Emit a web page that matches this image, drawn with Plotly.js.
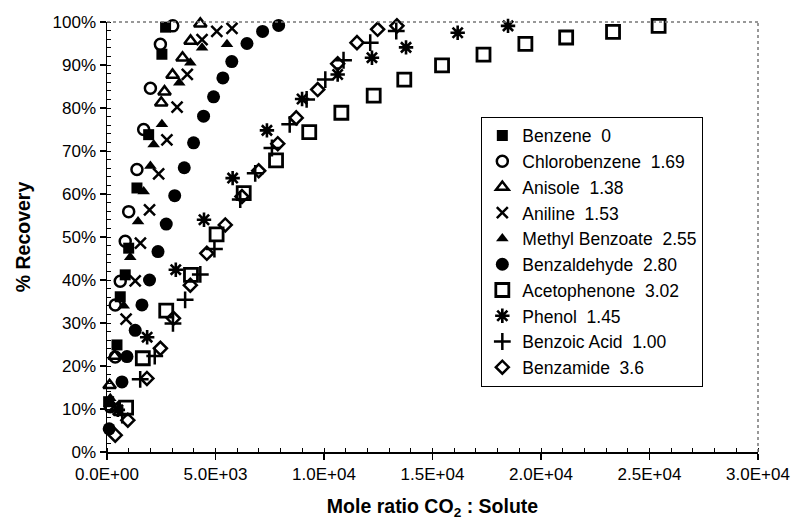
<!DOCTYPE html>
<html>
<head>
<meta charset="utf-8">
<script src="https://cdn.plot.ly/plotly-3.0.1.min.js"></script>
<style>html,body{margin:0;padding:0;background:#fff;}#chart{width:793px;height:527px;}</style>
</head>
<body>
<div id="chart"></div>
<script>
// ---- data (mole ratio CO2:solute, % recovery) ----
const benzeneX = [75, 460, 610, 840, 1000, 1380, 1920, 2530, 2700];
const benzeneY = [11.7, 24.9, 36.1, 41.2, 47.4, 61.4, 73.8, 92.5, 98.8];

const chlorobenzeneX = [150, 380, 380, 610, 840, 1000, 1380, 1690, 2000, 2460, 3030];
const chlorobenzeneY = [10.5, 22.1, 34.2, 39.7, 49.0, 55.9, 65.7, 75.0, 84.6, 94.8, 99.1];

const anisoleX = [120, 350, 2500, 2650, 3020, 3480, 3850, 4300];
const anisoleY = [15.5, 22.3, 81.2, 83.8, 87.7, 91.7, 95.6, 99.6];

const anilineX = [300, 880, 1300, 1540, 1960, 2380, 2760, 3230, 3700, 4380, 5060, 5760];
const anilineY = [10.5, 30.9, 39.8, 48.6, 56.3, 64.7, 72.6, 80.2, 87.8, 95.9, 97.8, 98.5];

const methylBenzoateX = [150, 770, 1070, 1430, 1690, 2000, 2150, 2530, 3330, 3840, 4380, 5530];
const methylBenzoateY = [12.5, 34.0, 45.3, 53.6, 60.6, 66.5, 71.5, 76.2, 85.9, 90.5, 94.0, 94.8];

const benzaldehydeX = [100, 690, 920, 1300, 1610, 1960, 2350, 2730, 3120, 3560, 3990, 4450, 4910, 5340, 5750, 6450, 7170, 7910];
const benzaldehydeY = [5.4, 16.3, 22.2, 28.3, 34.2, 40.0, 46.6, 53.0, 59.6, 66.1, 71.9, 78.1, 82.6, 87.0, 90.8, 95.0, 97.8, 99.2];

const acetophenoneX = [880, 1650, 2730, 3870, 5050, 6300, 7790, 9320, 10800, 12290, 13700, 15440, 17350, 19280, 21160, 23320, 25420];
const acetophenoneY = [10.3, 21.8, 32.9, 41.2, 50.6, 60.2, 67.8, 74.4, 78.9, 82.9, 86.6, 89.9, 92.4, 94.9, 96.4, 97.7, 99.1];

const phenolX = [500, 1850, 3170, 4470, 5790, 7370, 8990, 10630, 12210, 13780, 16160, 18480];
const phenolY = [9.8, 26.7, 42.4, 54.0, 63.7, 74.8, 82.1, 87.8, 91.7, 94.1, 97.5, 99.1];

const benzoicAcidX = [700, 1530, 2200, 3040, 3600, 4300, 4950, 6140, 6830, 7600, 8420, 9200, 10060, 10900, 12130, 13330];
const benzoicAcidY = [8.6, 16.9, 22.3, 29.9, 35.4, 41.3, 47.2, 58.7, 64.8, 70.7, 76.2, 82.0, 86.6, 91.1, 95.2, 97.9];

const benzamideX = [380, 960, 1840, 2460, 3060, 3840, 4600, 5450, 6220, 6990, 7870, 8720, 9710, 10630, 11520, 12470, 13360];
const benzamideY = [3.9, 7.4, 17.1, 24.1, 31.1, 38.8, 46.2, 52.8, 59.4, 65.4, 71.7, 77.7, 84.3, 90.3, 95.2, 98.3, 99.1];

const seriesNames = ["Benzene", "Chlorobenzene", "Anisole", "Aniline", "Methyl Benzoate", "Benzaldehyde", "Acetophenone", "Phenol", "Benzoic Acid", "Benzamide"];
const seriesValues = ["0", "1.69", "1.38", "1.53", "2.55", "2.80", "3.02", "1.45", "1.00", "3.6"];

const xTickVals = [0, 5000, 10000, 15000, 20000, 25000, 30000];
const xTickText = ["0.0E+00", "5.0E+03", "1.0E+04", "1.5E+04", "2.0E+04", "2.5E+04", "3.0E+04"];
const yTickVals = [0, 10, 20, 30, 40, 50, 60, 70, 80, 90, 100];
const yTickText = ["0%", "10%", "20%", "30%", "40%", "50%", "60%", "70%", "80%", "90%", "100%"];

// ---- styles ----
const xs = [benzeneX, chlorobenzeneX, anisoleX, anilineX, methylBenzoateX, benzaldehydeX, acetophenoneX, phenolX, benzoicAcidX, benzamideX];
const ys = [benzeneY, chlorobenzeneY, anisoleY, anilineY, methylBenzoateY, benzaldehydeY, acetophenoneY, phenolY, benzoicAcidY, benzamideY];
const markers = [
  {symbol: 'square', size: 11, color: '#000'},
  {symbol: 'circle-open', size: 11, color: '#000', line: {width: 2.5, color: '#000'}},
  {symbol: 'triangle-up-open', size: 11, color: '#000', line: {width: 2.5, color: '#000'}},
  {symbol: 'x-thin-open', size: 11, color: '#000', line: {width: 2.5, color: '#000'}},
  {symbol: 'triangle-up', size: 11, color: '#000'},
  {symbol: 'circle', size: 13, color: '#000'},
  {symbol: 'square-open', size: 13, color: '#000', line: {width: 2.8, color: '#000'}},
  {symbol: 'asterisk-open', size: 12, color: '#000', line: {width: 2.6, color: '#000'}},
  {symbol: 'cross-thin-open', size: 12, color: '#000', line: {width: 2.5, color: '#000'}},
  {symbol: 'diamond-open', size: 10, color: '#000', line: {width: 2.5, color: '#000'}}
];

const traces = seriesNames.map((n, i) => ({
  type: 'scatter', mode: 'markers',
  x: xs[i], y: ys[i],
  name: n + '\u00a0\u00a0' + seriesValues[i],
  marker: markers[i],
  cliponaxis: false
}));

const fontFam = '"Liberation Sans", Arial, Helvetica, sans-serif';
const layout = {
  width: 793, height: 527,
  margin: {l: 107, r: 35, t: 22, b: 75},
  paper_bgcolor: '#fff', plot_bgcolor: '#fff',
  font: {family: fontFam, color: '#000', size: 17},
  showlegend: true,
  legend: {
    x: 0.575, y: 0.78, xanchor: 'left', yanchor: 'top',
    bordercolor: '#000', borderwidth: 1, bgcolor: '#fff',
    font: {size: 17.5, family: fontFam, color: '#000'},
    itemwidth: 30, tracegroupgap: 0
  },
  xaxis: {
    range: [0, 30000], tickvals: xTickVals, ticktext: xTickText,
    showgrid: false, zeroline: false, showline: true, linecolor: '#000', linewidth: 1.5,
    ticks: 'outside', ticklen: 6, tickwidth: 1.5, tickcolor: '#000',
    minor: {dtick: 1000, tick0: 0, ticks: 'inside', ticklen: 4, tickwidth: 1, tickcolor: '#000', showgrid: false},
    tickfont: {size: 17},
    title: {text: '<b>Mole ratio CO<sub>2</sub> : Solute</b>', font: {size: 19.5}, standoff: 16}
  },
  yaxis: {
    range: [0, 100], tickvals: yTickVals, ticktext: yTickText,
    showgrid: false, zeroline: false, showline: true, linecolor: '#000', linewidth: 1.5,
    ticks: 'outside', ticklen: 6, tickwidth: 1.5, tickcolor: '#000',
    minor: {dtick: 2, tick0: 0, ticks: 'inside', ticklen: 4, tickwidth: 1, tickcolor: '#000', showgrid: false},
    tickfont: {size: 17},
    title: {text: '<b>% Recovery</b>', font: {size: 19.5}, standoff: 17}
  },
  shapes: [
    {type: 'line', xref: 'paper', yref: 'paper', x0: 0, x1: 1, y0: 1, y1: 1, line: {color: '#777', width: 1.5, dash: 'dot'}},
    {type: 'line', xref: 'paper', yref: 'paper', x0: 1, x1: 1, y0: 0, y1: 1, line: {color: '#777', width: 1.5, dash: 'dot'}}
  ]
};

Plotly.newPlot('chart', traces, layout, {displayModeBar: false, staticPlot: true});
</script>
</body>
</html>
